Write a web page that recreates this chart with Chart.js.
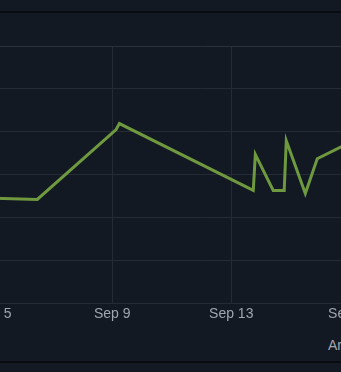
<!DOCTYPE html>
<html>
<head>
<meta charset="utf-8">
<script src="https://cdn.jsdelivr.net/npm/chart.js@4.4.0/dist/chart.umd.min.js"></script>
<style>
  html, body { margin: 0; padding: 0; background: #121922; width: 341px; height: 372px; overflow: hidden; }
  body { position: relative; }
  #topbar { position: absolute; left: 0; top: 0; width: 341px; height: 11px; border-bottom: 2px solid #080b0f; }
  #wrap { position: absolute; top: 14px; left: -215px; width: 833px; height: 312px; }
  #xtitle { position: absolute; left: 328px; top: 337px; color: #a0a6ad; font: 14px 'Liberation Sans', Arial, sans-serif; white-space: nowrap; }
  #foot { position: absolute; left: 0; top: 361px; width: 341px; height: 11px; border-top: 2px solid #080b0f; background: #131a23; }
</style>
</head>
<body>
<div id="topbar"></div>
<div id="wrap"><canvas id="chart"></canvas></div>
<div id="xtitle">Arrivals</div>
<div id="foot"></div>
<script>
// day of September (fractional) and value at that moment
const days   = [3.9, 6.48, 9.13, 9.24, 13.74, 13.81, 14.41, 14.78, 14.85, 15.49, 15.89, 17.4];
const values = [24.7, 24.2, 40.5, 41.9, 26.3, 34.7, 26.3, 26.3, 37.9, 25.6, 33.7, 38.9];

// x axis ticks, every 4 days
const tickDays = [1, 5, 9, 13, 17, 21, 25];
const monthLabel = 'Sep';

const gridColor = '#242b34';

Chart.defaults.color = '#a0a6ad';
Chart.defaults.font.family = "'Liberation Sans', Arial, sans-serif";
Chart.defaults.font.size = 14;

const chart = new Chart(document.getElementById('chart'), {
    type: 'line',
    data: {
        datasets: [{
            data: days.map((d, i) => ({ x: d, y: values[i] })),
            borderColor: 'rgb(110, 153, 62)',
            borderWidth: 3,
            pointRadius: 0,
            tension: 0,
            fill: false
        }]
    },
    options: {
        responsive: true,
        maintainAspectRatio: false,
        animation: false,
        layout: { padding: { top: 32, left: 0, right: 0, bottom: 0 } },
        plugins: {
            legend: { display: false },
            tooltip: { enabled: false }
        },
        scales: {
            x: {
                type: 'linear',
                min: -2,
                max: 26,
                afterBuildTicks: (scale) => {
                    scale.ticks = tickDays.map(v => ({ value: v }));
                },
                ticks: {
                    padding: 3,
                    maxRotation: 0,
                    autoSkip: false,
                    callback: (value) => monthLabel + ' ' + value
                },
                grid: { color: gridColor, drawTicks: false },
                border: { color: gridColor }
            },
            y: {
                min: 0,
                max: 60,
                ticks: { display: false, stepSize: 10 },
                grid: {
                    drawTicks: false,
                    color: (ctx) => ctx.tick && ctx.tick.value === 60 ? '#29313c' : gridColor
                },
                border: { display: false }
            }
        }
    }
});
</script>
</body>
</html>
